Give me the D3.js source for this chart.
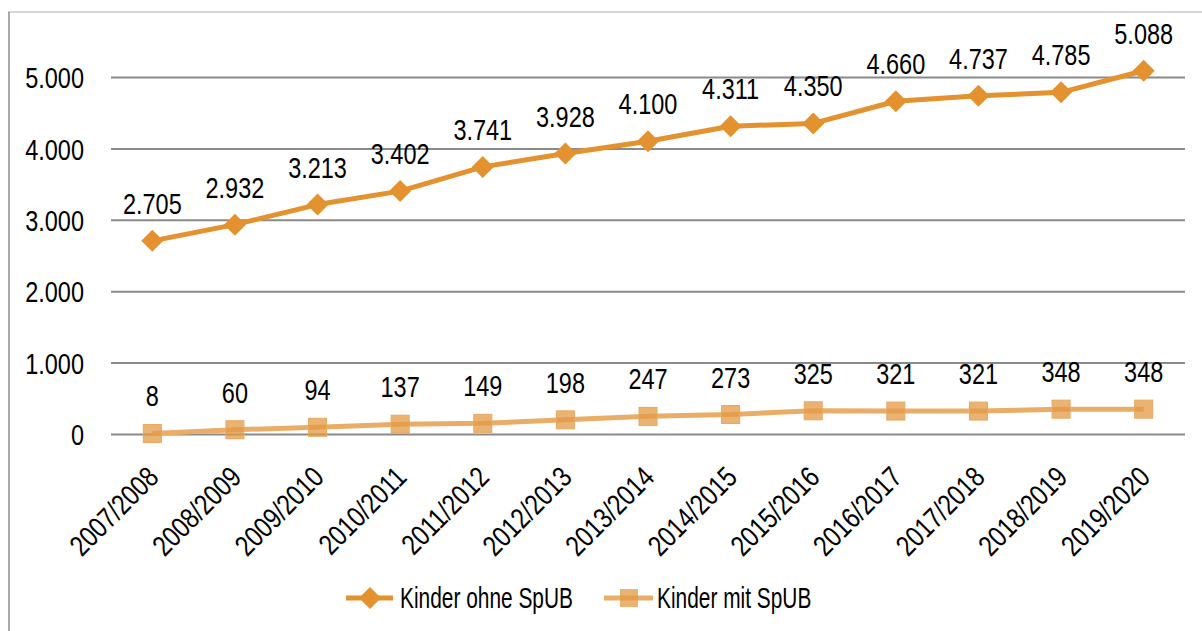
<!DOCTYPE html>
<html>
<head>
<meta charset="utf-8">
<script src="https://cdn.jsdelivr.net/npm/d3@7"></script>
<style>
  body { margin: 0; background: #fff; }
  svg text { font-family: "Liberation Sans", Arial, sans-serif; fill: #000; }
</style>
</head>
<body>
<svg id="chart" width="1202" height="631"></svg>
<script>
"use strict";

// Schuljahre und Werte
const years = ["2007/2008", "2008/2009", "2009/2010", "2010/2011", "2011/2012", "2012/2013",
  "2013/2014", "2014/2015", "2015/2016", "2016/2017", "2017/2018", "2018/2019", "2019/2020"];
const ohneSpUB = [2705, 2932, 3213, 3402, 3741, 3928, 4100, 4311, 4350, 4660, 4737, 4785, 5088];
const mitSpUB = [8, 60, 94, 137, 149, 198, 247, 273, 325, 321, 321, 348, 348];
const yTicks = [0, 1000, 2000, 3000, 4000, 5000];
const seriesNames = ["Kinder ohne SpUB", "Kinder mit SpUB"];

const de = d3.formatLocale({decimal: ",", thousands: ".", grouping: [3], currency: ["", " €"]});
const fmt = de.format(",d");

const FS = 29;

// schmale Schrift nachbilden (Arial Narrow gibt es nicht)
function narrow(sel, k = 0.81) {
  sel.each(function () {
    const len = this.getComputedTextLength();
    d3.select(this).attr("textLength", len * k).attr("lengthAdjust", "spacingAndGlyphs");
  });
}

const svg = d3.select("#chart");
const W = 1202, H = 631;
const plot = {left: 111, right: 1185, zero: 434};

// Rahmen
svg.append("line").attr("x1", 8).attr("x2", W).attr("y1", 12).attr("y2", 12)
  .attr("stroke", "#c8c8c8").attr("stroke-width", 1.5);
svg.append("line").attr("x1", 9).attr("x2", 9).attr("y1", 12).attr("y2", H)
  .attr("stroke", "#8c8c8c").attr("stroke-width", 1.5);

const x = d3.scaleBand().domain(years).range([plot.left, plot.right]);
const y = d3.scaleLinear().domain([0, 5000]).range([plot.zero, 77]);
const cx = d => x(d) + x.bandwidth() / 2;

// Gitterlinien + y-Achse
const yAxis = svg.append("g")
  .attr("transform", `translate(${plot.left},0)`)
  .call(d3.axisLeft(y).tickValues(yTicks).tickFormat(fmt)
    .tickSize(-(plot.right - plot.left)).tickPadding(27));
yAxis.select(".domain").remove();
yAxis.selectAll(".tick line").attr("stroke", "#8a8a8a").attr("stroke-width", 2);
yAxis.selectAll(".tick text").attr("font-size", FS).attr("dy", "0.37em").call(narrow);

// x-Achse (gedreht)
const xAxis = svg.append("g")
  .attr("transform", `translate(0,${plot.zero})`)
  .call(d3.axisBottom(x).tickSize(0).tickPadding(0));
xAxis.select(".domain").remove();
xAxis.selectAll(".tick text")
  .attr("font-size", FS)
  .attr("text-anchor", "end")
  .attr("y", 0).attr("dy", 0)
  .attr("transform", "translate(8,45) rotate(-45)")
  .call(narrow);

const darkOrange = "#e3922f";
const lightOrange = "#e9ad68";

const line = d3.line().x((d, i) => cx(years[i])).y(d => y(d));

// Kinder mit SpUB
svg.append("path").datum(mitSpUB)
  .attr("d", line).attr("fill", "none")
  .attr("stroke", lightOrange).attr("stroke-width", 5).attr("stroke-linejoin", "round");
svg.append("g").selectAll("rect").data(mitSpUB).enter().append("rect")
  .attr("x", (d, i) => cx(years[i]) - 9)
  .attr("y", d => y(d) - 9)
  .attr("width", 18).attr("height", 18)
  .attr("fill", "#e39a45").attr("fill-opacity", 0.75)
  .attr("stroke", "#e8a85d").attr("stroke-width", 1);

// Kinder ohne SpUB
svg.append("path").datum(ohneSpUB)
  .attr("d", line).attr("fill", "none")
  .attr("stroke", darkOrange).attr("stroke-width", 5).attr("stroke-linejoin", "round");
const diamond = "M0,-11L11,0L0,11L-11,0Z";
svg.append("g").selectAll("path").data(ohneSpUB).enter().append("path")
  .attr("d", diamond)
  .attr("transform", (d, i) => `translate(${cx(years[i])},${y(d)})`)
  .attr("fill", darkOrange);

// Datenbeschriftungen
[ohneSpUB, mitSpUB].forEach(series => {
  svg.append("g").selectAll("text").data(series).enter().append("text")
    .attr("x", (d, i) => cx(years[i]))
    .attr("y", d => y(d) - 27)
    .attr("text-anchor", "middle")
    .attr("font-size", FS)
    .text(d => fmt(d))
    .call(narrow);
});

// Legende
const legend = svg.append("g").attr("transform", "translate(0,598)");
const l1 = legend.append("g").attr("transform", "translate(346,0)");
l1.append("line").attr("x1", 0).attr("x2", 47).attr("stroke", darkOrange).attr("stroke-width", 5);
l1.append("path").attr("d", diamond).attr("transform", "translate(24,0)").attr("fill", darkOrange);
l1.append("text").attr("x", 54).attr("dy", "0.36em").attr("font-size", FS).text(seriesNames[0])
  .call(narrow, 0.72);

const l2 = legend.append("g").attr("transform", "translate(604,0)");
l2.append("line").attr("x1", 0).attr("x2", 49).attr("stroke", lightOrange).attr("stroke-width", 5);
l2.append("rect").attr("x", 16).attr("y", -9).attr("width", 18).attr("height", 18)
  .attr("fill", "#e39a45").attr("fill-opacity", 0.75);
l2.append("text").attr("x", 53).attr("dy", "0.36em").attr("font-size", FS).text(seriesNames[1])
  .call(narrow, 0.72);
</script>
</body>
</html>
